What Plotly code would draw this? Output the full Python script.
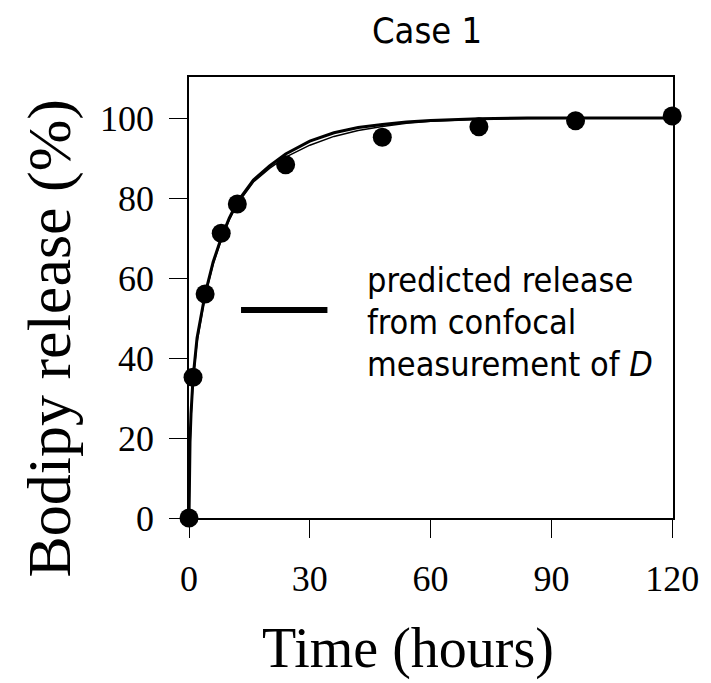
import plotly.graph_objects as go

# Measured release (points)
time_measured = [0, 1, 4, 8, 12, 24, 48, 72, 96, 120]
release_measured = [0, 35.2, 56, 71.2, 78.5, 88.3, 95.2, 97.8, 99.3, 100.5]

# Predicted release curves
time_curve = [0, 0.1, 0.25, 0.5, 1, 2, 3, 4, 6, 8, 10, 12, 16, 20, 24, 30, 36, 42, 48, 54, 60, 72, 84, 96, 108, 120]
pred_thick = [0, 12, 19, 26, 35, 45, 51, 56, 64, 70, 75, 79, 84.5, 88, 91, 94.2, 96.3, 97.6, 98.4, 99.0, 99.4, 99.8, 100, 100, 100, 100]
pred_thin = [0, 11, 18, 25, 34, 44, 50, 55.5, 63.5, 69.5, 74.5, 78.5, 84, 87.4, 90.2, 93.2, 95.4, 96.9, 97.9, 98.7, 99.2, 99.7, 99.9, 100, 100, 100]

x_ticks = [0, 30, 60, 90, 120]
y_ticks = [0, 20, 40, 60, 80, 100]

legend_lines = ["predicted release", "from confocal", "measurement of <i>D</i>"]

serif = "Liberation Serif, Times New Roman, serif"
narrow = "DejaVu Sans Condensed, Liberation Sans Narrow, Arial Narrow, sans-serif"

fig = go.Figure()
fig.add_trace(go.Scatter(x=time_curve, y=pred_thin, mode="lines",
                         line=dict(color="black", width=1.5), showlegend=False))
fig.add_trace(go.Scatter(x=time_curve, y=pred_thick, mode="lines",
                         line=dict(color="black", width=3), showlegend=False))
fig.add_trace(go.Scatter(x=time_measured, y=release_measured, mode="markers",
                         marker=dict(color="black", size=19), cliponaxis=False,
                         showlegend=False))

# legend drawn as a line sample and text
fig.add_shape(type="line", xref="paper", yref="paper",
              x0=(242 - 189) / 493, x1=(330 - 189) / 493,
              y0=(518 - 310) / 441, y1=(518 - 310) / 441,
              line=dict(color="black", width=6))
for i, txt in enumerate(legend_lines):
    fig.add_annotation(xref="paper", yref="paper", x=(368 - 189) / 493,
                       y=(518 - (280 + 42 * i)) / 441,
                       xanchor="left", yanchor="middle", align="left", showarrow=False,
                       text=txt, font=dict(family=narrow, size=34, color="black"))

# axis titles as annotations
fig.add_annotation(xref="paper", yref="paper", x=(412 - 189) / 493, y=(518 - 648) / 441,
                   xanchor="center", yanchor="middle", showarrow=False,
                   text="Time (hours)", font=dict(family=serif, size=56, color="black"))
fig.add_annotation(xref="paper", yref="paper", x=(46 - 189) / 493, y=(518 - 338) / 441,
                   xanchor="center", yanchor="middle", showarrow=False, textangle=-90,
                   text="Bodipy release (%)", font=dict(family=serif, size=62, color="black"))

fig.update_layout(
    width=711, height=683,
    margin=dict(l=189, r=29, t=77, b=165),
    paper_bgcolor="white", plot_bgcolor="white",
    title=dict(text="Case 1", x=427 / 711, xanchor="center", y=1 - 30 / 683, yanchor="middle",
               font=dict(family=narrow, size=36, color="black")),
    xaxis=dict(range=[0, 120.2], tickvals=x_ticks, ticktext=[str(v) for v in x_ticks],
               showgrid=False, zeroline=False, showline=True, linecolor="black", linewidth=1.5,
               mirror=True, ticks="outside", ticklen=18, tickwidth=1.2, tickcolor="black",
               tickfont=dict(family=serif, size=36, color="black"), ticklabelstandoff=10),
    yaxis=dict(range=[0, 110.25], tickvals=y_ticks, ticktext=[str(v) for v in y_ticks],
               showgrid=False, zeroline=False, showline=True, linecolor="black", linewidth=1.5,
               mirror=True, ticks="outside", ticklen=18, tickwidth=1.2, tickcolor="black",
               tickfont=dict(family=serif, size=36, color="black"), ticklabelstandoff=8),
)

fig.write_html("out.html")
